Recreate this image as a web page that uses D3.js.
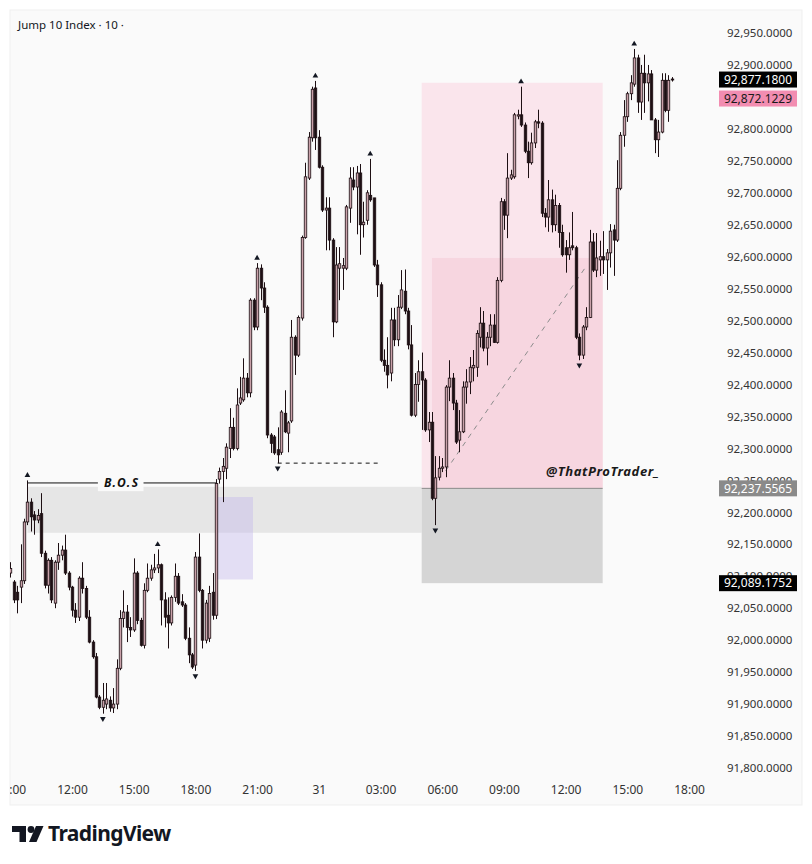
<!DOCTYPE html>
<html><head><meta charset="utf-8">
<script src="https://cdn.jsdelivr.net/npm/d3@7"></script>
<style>
body{margin:0;background:#fff;}
svg{display:block;font-family:"Noto Sans","Open Sans",sans-serif;}
</style>
</head><body>
<script>
const title = "Jump 10 Index · 10 ·";
const opens = [92105,92091,92075,92083,92093,92185,92216,92196,92188,92198,
92136,92086,92125,92058,92122,92133,92141,92105,92083,92047,
92036,92097,92081,92036,91997,91974,91911,91895,91900,91906,
91894,91900,91956,92034,92044,92020,92016,92105,92031,91992,
92078,92097,92110,92113,92118,92063,92039,92027,92067,92100,
92060,92055,92003,91977,91961,92130,92078,92000,92003,92075,
92039,92252,92264,92269,92300,92333,92300,92371,92376,92410,
92387,92532,92490,92582,92551,92521,92321,92318,92298,92294,
92355,92324,92343,92474,92446,92504,92630,92723,92786,92864,
92787,92740,92673,92676,92626,92498,92582,92582,92582,92676,
92720,92709,92731,92650,92657,92696,92692,92587,92556,92438,
92430,92418,92501,92470,92521,92546,92515,92462,92352,92400,
92420,92407,92329,92341,92222,92255,92269,92271,92396,92410,
92371,92313,92326,92396,92404,92426,92427,92474,92496,92457,
92474,92493,92466,92563,92686,92665,92723,92725,92820,92822,
92806,92765,92747,92778,92811,92809,92668,92662,92689,92650,
92680,92638,92614,92603,92617,92614,92474,92446,92490,92505,
92623,92579,92595,92600,92595,92606,92642,92626,92707,92790,
92819,92855,92870,92911,92842,92887,92872,92886,92814,92783,
92795,92876,92829,92878];
const highs = [92122,92094,92085,92150,92190,92250,92222,92202,92205,92230,
92140,92128,92130,92125,92152,92148,92165,92108,92085,92058,
92100,92122,92085,92047,92000,91980,91914,91933,91933,91912,
91925,91970,92047,92078,92055,92036,92128,92108,92035,92089,
92120,92118,92135,92142,92120,92075,92067,92070,92120,92105,
92072,92058,92020,91980,92138,92167,92080,92063,92085,92105,
92252,92270,92285,92308,92363,92348,92394,92412,92441,92418,
92535,92535,92590,92588,92560,92524,92324,92321,92333,92360,
92391,92343,92501,92477,92508,92633,92747,92795,92866,92875,
92798,92743,92693,92693,92629,92615,92615,92598,92681,92740,
92740,92742,92745,92686,92704,92753,92692,92595,92560,92455,
92474,92520,92520,92540,92579,92580,92520,92493,92418,92438,
92450,92410,92357,92357,92288,92288,92285,92399,92438,92418,
92376,92360,92405,92424,92443,92454,92485,92521,92515,92482,
92510,92510,92568,92692,92690,92762,92736,92825,92830,92866,
92810,92780,92794,92814,92830,92812,92676,92720,92705,92697,
92684,92650,92626,92638,92670,92617,92480,92493,92521,92642,
92637,92637,92625,92640,92612,92651,92650,92751,92795,92845,
92858,92884,92925,92916,92900,92916,92900,92892,92817,92814,
92887,92887,92884,92881];
const lows = [92098,92058,92042,92058,92088,92180,92170,92165,92183,92130,
92081,92073,92058,92050,92110,92125,92102,92078,92037,92027,
92030,92073,92033,91995,91971,91909,91892,91885,91892,91888,
91886,91892,91953,92020,91997,92005,92013,92025,91990,91987,
92075,92093,92105,92105,92023,92020,91987,92023,92060,92055,
92052,92000,91964,91955,91952,92075,91987,91995,91997,92032,
92033,92245,92216,92252,92285,92297,92297,92368,92373,92380,
92380,92485,92485,92532,92512,92316,92293,92290,92277,92290,
92324,92294,92340,92415,92443,92500,92628,92720,92780,92767,
92738,92670,92610,92610,92474,92496,92532,92548,92579,92653,
92704,92635,92603,92630,92650,92686,92584,92537,92435,92420,
92394,92405,92460,92460,92518,92510,92455,92350,92349,92373,
92329,92326,92310,92219,92180,92250,92263,92255,92374,92360,
92307,92294,92324,92370,92385,92405,92412,92458,92452,92430,
92460,92465,92464,92560,92642,92629,92720,92722,92815,92803,
92762,92723,92744,92770,92801,92662,92646,92639,92638,92640,
92614,92600,92575,92595,92610,92471,92438,92440,92485,92504,
92576,92568,92570,92573,92548,92583,92570,92623,92704,92772,
92811,92845,92866,92825,92814,92825,92843,92814,92762,92756,
92793,92826,92811,92874];
const closes = [92112,92063,92063,92093,92185,92216,92193,92188,92195,92136,
92086,92125,92063,92122,92133,92141,92105,92083,92047,92036,
92097,92081,92036,91997,91974,91911,91895,91906,91908,91894,
91900,91956,92034,92044,92020,92016,92105,92031,91992,92078,
92097,92110,92113,92118,92063,92036,92027,92067,92100,92058,
92055,92003,91977,91958,92130,92078,92000,92058,92073,92039,
92245,92264,92272,92302,92333,92300,92368,92379,92410,92387,
92532,92490,92582,92551,92521,92321,92308,92293,92290,92357,
92326,92340,92474,92446,92505,92630,92725,92787,92862,92786,
92740,92673,92676,92626,92498,92587,92589,92586,92678,92723,
92709,92731,92650,92654,92700,92689,92587,92556,92438,92430,
92415,92501,92470,92521,92548,92515,92462,92352,92400,92420,
92407,92329,92341,92222,92254,92269,92271,92396,92410,92371,
92310,92326,92396,92404,92427,92430,92480,92496,92457,92474,
92493,92466,92563,92686,92665,92723,92728,92822,92822,92806,
92765,92747,92778,92811,92809,92668,92662,92689,92650,92680,
92638,92603,92603,92614,92614,92474,92446,92490,92505,92623,
92579,92598,92600,92595,92606,92640,92626,92707,92790,92819,
92855,92872,92911,92842,92887,92872,92886,92814,92783,92795,
92876,92829,92876,92877.18];

const highMarks = [5, 43, 72, 89, 105, 149, 182];
const lowMarks = [27, 54, 78, 124, 166];
const timeLabels = ["09:00","12:00","15:00","18:00","21:00","31","03:00","06:00","09:00","12:00","15:00","18:00"];
const priceTicks = d3.range(91800, 92951, 50);

const targetPrice = 92872.1229, entryPrice = 92237.5565, stopPrice = 92089.1752, lastPrice = 92877.18;
const bosPrice = 92246, bosFrom = 5, bosTo = 60;
const obTop = 92240, obBottom = 92168, obFrom = 5, obTo = 120;
const fvgTop = 92224, fvgBottom = 92095, fvgFrom = 60.3, fvgTo = 70.8;
const sweepPrice = 92277, sweepFrom = 78, sweepTo = 108;
const trendFrom = [127, 92265], trendTo = [168, 92585];
const posFrom = 120, posTo = 172.8;
const innerTop = 92598, innerFrom = 123;
const watermark = "@ThatProTrader_";

const W = 812, H = 864;
const t0 = new Date(2025, 0, 30, 9, 0).getTime();
const tAt = i => new Date(t0 + i * 600000);
const n = closes.length;

const x = d3.scaleTime().domain([tAt(0), tAt(n - 1)]).range([10.3, 10.3 + (n - 1) * 3.428]);
const y = d3.scaleLinear().domain([91800, 92950]).range([768, 33]);
const xi = i => x(tAt(i));

const svg = d3.select("body").append("svg").attr("width", W).attr("height", H);
svg.append("rect").attr("width", W).attr("height", H).attr("fill", "#ffffff");
svg.append("rect").attr("x", 10).attr("y", 10).attr("width", 792).attr("height", 795)
  .attr("fill", "#fafafa").attr("stroke", "#efefef");

const defs = svg.append("defs");
defs.append("clipPath").attr("id", "plot").append("rect").attr("x", 10).attr("y", 10).attr("width", 702).attr("height", 768);
defs.append("clipPath").attr("id", "xax").append("rect").attr("x", 10).attr("y", 770).attr("width", 702).attr("height", 35);

const plot = svg.append("g").attr("clip-path", "url(#plot)");

// zones
plot.append("rect").attr("x", xi(obFrom)).attr("y", y(obTop)).attr("width", xi(obTo) - xi(obFrom))
  .attr("height", y(obBottom) - y(obTop)).attr("fill", "#e6e6e6");
plot.append("rect").attr("x", xi(fvgFrom)).attr("y", y(fvgTop)).attr("width", xi(fvgTo) - xi(fvgFrom))
  .attr("height", y(fvgBottom) - y(fvgTop)).attr("fill", "rgba(196,184,236,0.42)");
plot.append("rect").attr("x", xi(posFrom)).attr("y", y(targetPrice)).attr("width", xi(posTo) - xi(posFrom))
  .attr("height", y(entryPrice) - y(targetPrice)).attr("fill", "#fae5ec");
plot.append("rect").attr("x", xi(innerFrom)).attr("y", y(innerTop)).attr("width", xi(posTo) - xi(innerFrom))
  .attr("height", y(entryPrice) - y(innerTop)).attr("fill", "#f7d6e0");
plot.append("rect").attr("x", xi(posFrom)).attr("y", y(entryPrice)).attr("width", xi(posTo) - xi(posFrom))
  .attr("height", y(stopPrice) - y(entryPrice)).attr("fill", "#d5d5d5");
plot.append("line").attr("x1", xi(posFrom)).attr("x2", xi(posTo)).attr("y1", y(entryPrice)).attr("y2", y(entryPrice))
  .attr("stroke", "#8a8a8a").attr("stroke-width", 1);

// lines
plot.append("line").attr("x1", xi(trendFrom[0])).attr("y1", y(trendFrom[1])).attr("x2", xi(trendTo[0])).attr("y2", y(trendTo[1]))
  .attr("stroke", "#8c8c8c").attr("stroke-width", 1).attr("stroke-dasharray", "5,5");
plot.append("line").attr("x1", xi(sweepFrom)).attr("x2", xi(sweepTo)).attr("y1", y(sweepPrice)).attr("y2", y(sweepPrice))
  .attr("stroke", "#111").attr("stroke-width", 1).attr("stroke-dasharray", "4,4");
plot.append("line").attr("x1", xi(bosFrom)).attr("x2", xi(bosTo)).attr("y1", y(bosPrice)).attr("y2", y(bosPrice))
  .attr("stroke", "#111").attr("stroke-width", 1);

// candles
const upFill = "#c9a1a9", dnFill = "#1d0f13", edge = "#1d0f13";
const cg = plot.append("g");
for (let i = 0; i < n; i++) {
  const cx = Math.round(xi(i)) + 0.5;
  cg.append("line").attr("x1", cx).attr("x2", cx).attr("y1", y(highs[i])).attr("y2", y(lows[i]))
    .attr("stroke", edge).attr("stroke-width", 1);
  const top = y(Math.max(opens[i], closes[i])), bot = y(Math.min(opens[i], closes[i]));
  const up = closes[i] >= opens[i];
  cg.append("rect").attr("x", cx - 1.25).attr("y", top).attr("width", 2.5).attr("height", Math.max(1, bot - top))
    .attr("fill", up ? upFill : dnFill).attr("stroke", edge).attr("stroke-width", 0.8);
}

// markers
const tri = d3.symbol().type(d3.symbolTriangle).size(14);
highMarks.forEach(i => {
  plot.append("path").attr("d", tri).attr("transform", `translate(${xi(i)},${y(highs[i]) - 5})`).attr("fill", "#131722");
});
lowMarks.forEach(i => {
  plot.append("path").attr("d", tri).attr("transform", `translate(${xi(i)},${y(lows[i]) + 5})`).attr("transform", `translate(${xi(i)},${y(lows[i]) + 5}) rotate(180)`).attr("fill", "#131722");
});

// BOS label
const bx = (xi(bosFrom) + xi(bosTo)) / 2;
const bt = plot.append("text").attr("x", bx).attr("y", y(bosPrice)).attr("dy", "0.35em").attr("text-anchor", "middle")
  .attr("font-size", 12).attr("font-weight", "bold").attr("font-style", "italic").attr("letter-spacing", 1.5)
  .attr("fill", "#111").text("B.O.S");
const bb = bt.node().getBBox();
plot.insert("rect", "text").attr("x", bb.x - 6).attr("y", bb.y).attr("width", bb.width + 10).attr("height", bb.height).attr("fill", "#fafafa");

// watermark
plot.append("text").attr("x", xi(156.3)).attr("y", y(92257)).attr("font-size", 13).attr("font-weight", "bold")
  .attr("font-style", "italic").attr("letter-spacing", 0.6).attr("fill", "#1a1a1a").text(watermark);

// title
svg.append("text").attr("x", 18).attr("y", 29).attr("font-size", 11.5).attr("fill", "#131722").text(title);

// price labels (boxes) positions
const lastY = y(lastPrice);
const targetY = Math.max(y(targetPrice), lastY + 19);
const boxes = [
  {price: lastPrice, cy: lastY, bg: "#000000", fg: "#ffffff"},
  {price: targetPrice, cy: targetY, bg: "#f28db1", fg: "#1a1a1a"},
  {price: entryPrice, cy: y(entryPrice), bg: "#8a8a8a", fg: "#ffffff"},
  {price: stopPrice, cy: y(stopPrice), bg: "#000000", fg: "#ffffff"}
];

// price axis (tick labels fully covered by a price box are not drawn, as in the reference)
const visibleTicks = priceTicks.filter(p => !boxes.some(b => Math.abs(y(p) - b.cy) < 5));
const yAxis = d3.axisRight(y).tickValues(visibleTicks).tickSize(0).tickPadding(0).tickFormat(d3.format(",.4f"));
const ya = svg.append("g").attr("transform", "translate(727,0)").call(yAxis);
ya.select(".domain").remove();
ya.selectAll("text").attr("font-size", 11.5).attr("font-family", "'Noto Sans',sans-serif").attr("fill", "#333");

// time axis
const tickTimes = timeLabels.map((d, k) => tAt(k * 18));
const xAxis = d3.axisBottom(x).tickValues(tickTimes).tickSize(0).tickPadding(0).tickFormat((d, k) => timeLabels[k]);
const xa = svg.append("g").attr("clip-path", "url(#xax)").append("g").attr("transform", "translate(0,785)").call(xAxis);
xa.select(".domain").remove();
xa.selectAll("text").attr("font-size", 12).attr("font-family", "'Noto Sans',sans-serif").attr("fill", "#333");

boxes.forEach(b => {
  svg.append("rect").attr("x", 719).attr("y", b.cy - 8).attr("width", 78).attr("height", 16).attr("fill", b.bg);
  svg.append("text").attr("x", 758).attr("y", b.cy).attr("dy", "0.36em").attr("text-anchor", "middle")
    .attr("font-size", 12).attr("fill", b.fg).text(d3.format(",.4f")(b.price));
});

// TradingView logo
const lg = svg.append("g").attr("fill", "#131722");
lg.append("path").attr("d", "M12,826 H26 V842 H19.5 V832 H12 Z");
lg.append("circle").attr("cx", 31).attr("cy", 829.5).attr("r", 3.4);
lg.append("path").attr("d", "M36,826 H43.5 L36.5,842 H29 Z");
svg.append("text").attr("x", 48).attr("y", 841).attr("font-size", 21).attr("font-weight", "bold")
  .attr("font-family", "'Noto Sans',sans-serif").attr("letter-spacing", -0.6).attr("fill", "#131722").text("TradingView");
</script>
</body></html>
